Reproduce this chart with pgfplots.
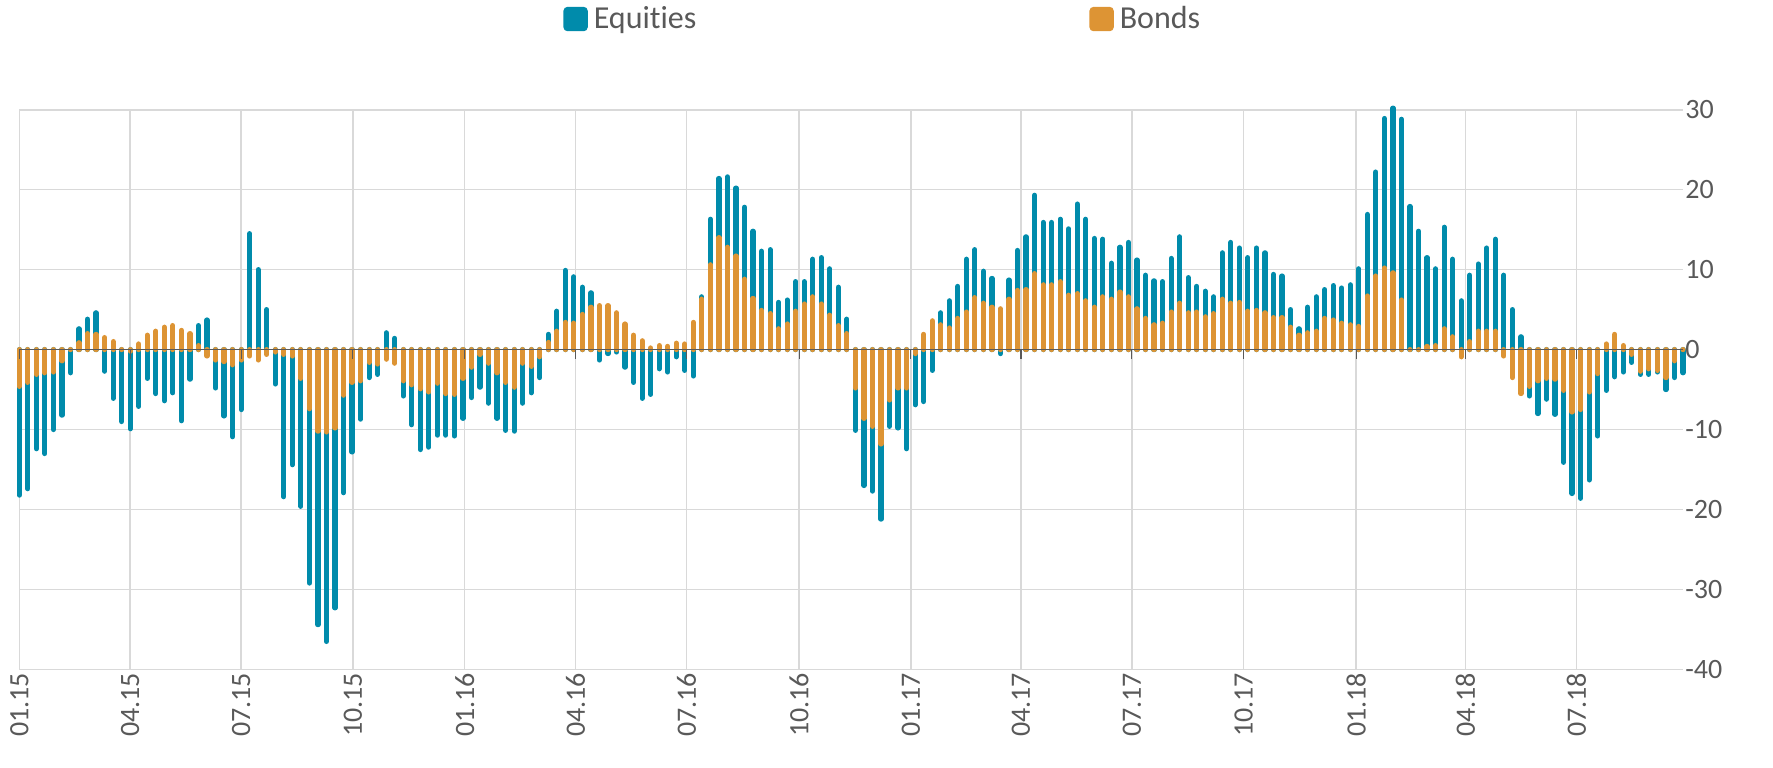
\documentclass[border=0pt]{standalone}
\usepackage{pgfplots}
\pgfplotsset{compat=1.18}
\usepackage{pgfplotstable}
\usepackage{fontspec}
\setmainfont{Carlito}[Ligatures=NoCommon]
\definecolor{eqblue}{RGB}{0,139,171}
\definecolor{bdorange}{RGB}{221,148,52}
\definecolor{gridgray}{RGB}{217,217,217}
\definecolor{txtgray}{RGB}{89,89,89}

% x = week index, T = outer end of the blue (equities) bar, O = bonds
\pgfplotstableread{
x T O
0 -18.2 -4.6
1 -17.4 -4.1
2 -12.4 -3.1
3 -13.0 -2.9
4 -10.0 -2.8
5 -8.2 -1.4
6 -2.9 0
7 2.6 0.85
8 3.8 2.0
9 4.6 1.9
10 -2.7 1.5
11 -6.1 1.0
12 -9.0 0
13 -9.9 -0.2
14 -7.1 0.7
15 -3.6 1.8
16 -5.5 2.3
17 -6.4 2.8
18 -5.4 3.0
19 -8.9 2.4
20 -3.7 2.0
21 3.0 0.5
22 3.7 -0.8
23 -4.8 -1.3
24 -8.3 -1.5
25 -10.9 -1.9
26 -7.5 -1.3
27 14.5 -0.8
28 10.0 -1.3
29 5.0 -0.6
30 -4.3 -0.3
31 -18.4 -0.6
32 -14.4 -0.8
33 -19.6 -3.6
34 -29.2 -7.4
35 -34.4 -10.2
36 -36.5 -10.3
37 -32.3 -9.8
38 -17.9 -5.7
39 -12.8 -4.1
40 -8.7 -3.9
41 -3.5 -1.6
42 -3.1 -1.8
43 2.1 -1.2
44 1.4 -1.7
45 -5.8 -3.9
46 -9.4 -4.4
47 -12.5 -4.9
48 -12.2 -5.3
49 -10.7 -4.2
50 -10.7 -5.5
51 -10.8 -5.6
52 -8.6 -3.6
53 -6.0 -2.2
54 -4.7 -0.6
55 -6.7 -1.7
56 -8.6 -2.9
57 -10.1 -4.1
58 -10.2 -4.7
59 -6.7 -1.7
60 -5.4 -2.1
61 -3.5 -0.9
62 1.9 0.9
63 4.8 2.3
64 9.9 3.4
65 9.1 3.3
66 7.8 4.4
67 7.1 5.3
68 -1.3 5.5
69 -0.5 5.5
70 -0.3 4.6
71 -2.2 3.2
72 -4.1 1.8
73 -6.1 1.1
74 -5.6 0.2
75 -2.4 0.5
76 -2.8 0.4
77 -0.9 0.8
78 -2.6 0.7
79 -3.3 3.4
80 6.6 6.3
81 16.3 10.6
82 21.4 14.0
83 21.6 12.8
84 20.2 11.7
85 17.8 8.8
86 14.8 6.4
87 12.3 4.9
88 12.5 4.5
89 5.9 2.6
90 6.2 3.2
91 8.5 4.8
92 8.5 5.7
93 11.3 6.6
94 11.5 5.7
95 10.1 4.3
96 7.8 3.0
97 3.8 2.0
98 -10.1 -4.8
99 -17.0 -8.6
100 -17.7 -9.6
101 -21.2 -11.8
102 -9.6 -6.3
103 -9.8 -4.8
104 -12.4 -4.8
105 -6.9 -0.5
106 -6.5 1.9
107 -2.6 3.6
108 4.6 3.1
109 6.1 2.7
110 7.9 3.9
111 11.3 4.7
112 12.5 6.5
113 9.8 5.8
114 8.9 5.3
115 -0.5 5.1
116 8.7 6.3
117 12.4 7.4
118 14.1 7.5
119 19.3 9.5
120 15.9 8.1
121 15.9 8.1
122 16.3 8.5
123 15.1 6.8
124 18.2 7.0
125 16.3 6.1
126 13.9 5.3
127 13.8 6.6
128 10.8 6.3
129 12.8 7.2
130 13.4 6.6
131 11.2 5.1
132 9.3 3.9
133 8.6 3.1
134 8.5 3.3
135 11.4 4.7
136 14.1 5.8
137 9.0 4.6
138 7.9 4.7
139 7.3 4.1
140 6.6 4.5
141 12.1 6.3
142 13.4 5.8
143 12.7 5.9
144 11.5 4.8
145 12.7 4.9
146 12.1 4.6
147 9.4 4.0
148 9.2 4.0
149 5.0 2.8
150 2.6 1.8
151 5.3 2.1
152 6.6 2.3
153 7.5 3.9
154 8.0 3.7
155 7.7 3.3
156 8.1 3.1
157 10.1 2.9
158 16.9 6.7
159 22.2 9.2
160 28.9 10.2
161 30.2 9.6
162 28.8 6.2
163 17.9 0
164 14.8 0
165 11.5 0.4
166 10.1 0.5
167 15.3 2.6
168 11.3 1.6
169 6.1 -0.9
170 9.3 1.0
171 10.7 2.3
172 12.7 2.3
173 13.8 2.3
174 9.3 -0.8
175 5.0 -3.5
176 1.6 -5.5
177 -5.8 -4.6
178 -8.0 -3.9
179 -6.2 -3.6
180 -8.1 -3.7
181 -14.1 -5.1
182 -18.0 -7.8
183 -18.6 -7.5
184 -16.3 -5.3
185 -10.8 -3.0
186 -5.1 0.7
187 -3.4 1.9
188 -2.8 0.5
189 -1.6 -0.6
190 -3.1 -2.7
191 -3.1 -2.4
192 -2.8 -2.6
193 -5.0 -3.5
194 -3.5 -1.4
195 -2.9 0
}\flows

\begin{document}
\begin{tikzpicture}
\useasboundingbox (0,0) rectangle (886.5pt,-383.5pt);
\begin{axis}[
  at={(9.65pt,-334.7pt)}, anchor=south west,
  scale only axis, width=831.85pt, height=279.85pt,
  xmin=0, xmax=195, ymin=-40, ymax=30, clip=false,
  axis line style={draw=none},
  major tick length=0pt,
  xtick={0,13,26,39.1,52.2,65.2,78.2,91.4,104.5,117.4,130.4,143.5,156.7,169.5,182.5},
  xticklabels={01.15,04.15,07.15,10.15,01.16,04.16,07.16,10.16,01.17,04.17,07.17,10.17,01.18,04.18,07.18},
  xticklabel style={rotate=90, anchor=east, inner sep=1.5pt, font=\fontsize{14}{16}\selectfont, text=txtgray},
  ytick={-40,-30,...,30},
  yticklabel pos=right,
  yticklabel style={anchor=west, inner sep=1pt, font=\fontsize{14}{16}\selectfont, text=txtgray},
  /pgf/number format/assume math mode=true,
  xmajorgrids, ymajorgrids,
  grid style={gridgray, line width=0.8pt},
  legend columns=2,
  legend style={at={(0.3268,1.162)}, anchor=west, draw=none, fill=none, inner sep=0pt,
    font=\fontsize{16}{18}\selectfont, text=txtgray,
    nodes={inner sep=1.5pt},
    /tikz/every odd column/.append style={column sep=1.5pt},
    /tikz/every even column/.append style={column sep=195pt}},
]
\addplot[ycomb, draw=eqblue, line width=2.6pt, line cap=round,
  legend image code/.code={\fill[eqblue, rounded corners=1pt] (0pt,-4.8pt) rectangle (9.6pt,4.8pt);}]
  table[x=x, y=T]{\flows};
\addlegendentry{Equities}
\addplot[ycomb, draw=bdorange, line width=2.6pt, line cap=round,
  legend image code/.code={\fill[bdorange, rounded corners=1pt] (0pt,-4.8pt) rectangle (9.6pt,4.8pt);}]
  table[x=x, y=O]{\flows};
\addlegendentry{Bonds}
\end{axis}
\begin{axis}[
  at={(9.65pt,-334.7pt)}, anchor=south west,
  scale only axis, width=831.85pt, height=279.85pt,
  xmin=0, xmax=195, ymin=-40, ymax=30,
  axis x line=middle, axis y line=none,
  x axis line style={-, draw=txtgray, line width=0.6pt},
  xtick={0,13,26,39.1,52.2,65.2,78.2,91.4,104.5,117.4,130.4,143.5,156.7,169.5,182.5},
  xticklabels={}, ytick=\empty,
  tick align=outside, major tick length=4.5pt,
  xtick style={draw=txtgray, line width=0.6pt},
]
\end{axis}
\end{tikzpicture}
\end{document}
